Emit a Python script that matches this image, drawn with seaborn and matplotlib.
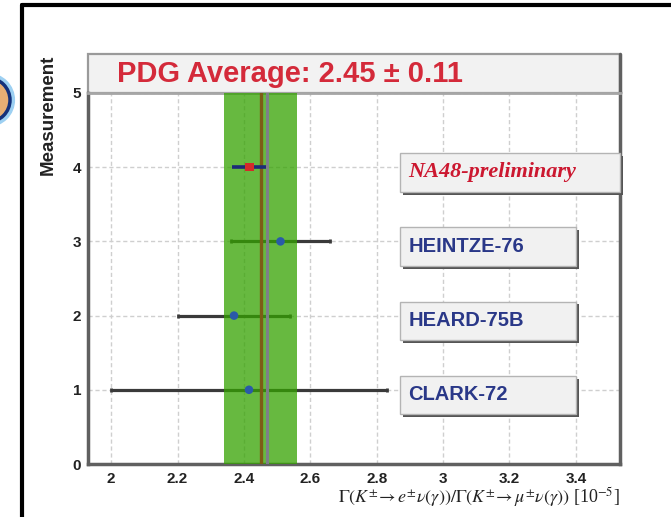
import numpy as np
import pandas as pd
import matplotlib
matplotlib.use("Agg")
import matplotlib.pyplot as plt
import seaborn as sns
from matplotlib.patches import Rectangle, Ellipse
from matplotlib.lines import Line2D
from matplotlib.ticker import MultipleLocator

# Measurements of the K -> e nu / K -> mu nu ratio (units of 1e-5)
experiments = ["CLARK-72", "HEARD-75B", "HEINTZE-76", "NA48-preliminary"]
measurement = [1, 2, 3, 4]
values = [2.415, 2.37, 2.51, 2.416]
errors = [0.415, 0.17, 0.15, 0.051]
pdg_avg = 2.45
pdg_err = 0.11
combined_avg = 2.47

x_ticks = [2.0, 2.2, 2.4, 2.6, 2.8, 3.0, 3.2, 3.4]
x_tick_labels = ["2", "2.2", "2.4", "2.6", "2.8", "3", "3.2", "3.4"]
y_ticks = [0, 1, 2, 3, 4, 5]

sns.set_style("white")
plt.rcParams["font.family"] = ["Liberation Sans", "DejaVu Sans"]
plt.rcParams["mathtext.fontset"] = "stix"

W, H = 671, 517
fig = plt.figure(figsize=(W / 100, H / 100), dpi=100)
ax = fig.add_axes([88 / W, 1 - 464 / H, (620 - 88) / W, (464 - 93) / H])
ax.set_xlim(1.93, 3.533)
ax.set_ylim(0, 5)

df = pd.DataFrame({"experiment": experiments, "measurement": measurement,
                   "value": values, "error": errors})
old = df[df.experiment != "NA48-preliminary"]
na48 = df[df.experiment == "NA48-preliminary"]

# grid
ax.set_xticks(x_ticks)
ax.set_xticklabels(x_tick_labels)
ax.set_yticks(y_ticks)
ax.xaxis.set_minor_locator(MultipleLocator(0.04))
ax.yaxis.set_minor_locator(MultipleLocator(0.2))
ax.grid(True, which="major", color="#cfcfcf", linestyle=(0, (3, 2)), lw=1.0, zorder=0)
ax.set_axisbelow(True)

# older measurements: error bars under the average band
ax.errorbar(old.value, old.measurement, xerr=old.error, fmt="none",
            ecolor="#3a3a3a", elinewidth=2.3, capsize=1.5, capthick=2, zorder=2)

# PDG average band and lines
ax.axvspan(pdg_avg - pdg_err, pdg_avg + pdg_err, color="#34a200", alpha=0.75, lw=0, zorder=3)
ax.axvline(pdg_avg, color="#7d5c16", lw=2.4, zorder=4)
ax.axvline(combined_avg, color="#7e7f88", lw=2.2, zorder=4)

# NA48 error bar on top
ax.errorbar(na48.value, na48.measurement, xerr=na48.error, fmt="none",
            ecolor="#1c2a78", elinewidth=2.6, zorder=5)

palette = {"CLARK-72": "#2a5aa8", "HEARD-75B": "#2a5aa8",
           "HEINTZE-76": "#2a5aa8", "NA48-preliminary": "#d42a2a"}
markers = {"CLARK-72": "o", "HEARD-75B": "o", "HEINTZE-76": "o", "NA48-preliminary": "s"}
sns.scatterplot(data=df, x="value", y="measurement", hue="experiment", style="experiment",
                palette=palette, markers=markers, s=38, edgecolor="none",
                legend=False, ax=ax, zorder=6)
ax.set_xlabel("")
ax.set_ylabel("")

# experiment label boxes
box_x0 = 2.87
for name, y in zip(experiments, measurement):
    x1 = 3.533 if name == "NA48-preliminary" else 3.40
    y0, y1 = y - 0.33, y + 0.19
    ax.add_patch(Rectangle((box_x0 + 0.009, y0 - 0.04), x1 - box_x0, y1 - y0,
                           facecolor="#555555", edgecolor="none", zorder=7, clip_on=False))
    ax.add_patch(Rectangle((box_x0, y0), x1 - box_x0, y1 - y0,
                           facecolor="#f1f1f1", edgecolor="#b4b4b4", lw=1.0, zorder=8,
                           clip_on=False))
    if name == "NA48-preliminary":
        ax.text(box_x0 + 0.026, (y0 + y1) / 2, name, color="#cc1830", fontsize=16,
                family="Liberation Serif", style="italic", fontweight="bold",
                va="center", ha="left", zorder=9)
    else:
        ax.text(box_x0 + 0.026, (y0 + y1) / 2, name, color="#2a3888", fontsize=14.5,
                fontweight="bold", va="center", ha="left", zorder=9)

# title box
tb_h = (93 - 54) / (464 - 93)
ax.add_patch(Rectangle((0, 1), 1, tb_h, transform=ax.transAxes, facecolor="#f2f2f2",
                       edgecolor="#9a9a9a", lw=1.6, clip_on=False, zorder=1))
ax.text((117 - 88) / 532, 1 + tb_h / 2, f"PDG Average: {pdg_avg:.2f} ± {pdg_err:.2f}",
        transform=ax.transAxes, color="#d42a3a", fontsize=21, fontweight="bold",
        va="center", ha="left")
ax.plot([1, 1], [1, 1 + tb_h], transform=ax.transAxes, color="#606060", lw=2.5,
        clip_on=False, zorder=2)

# axes frame and ticks
for side in ["left", "bottom", "right"]:
    ax.spines[side].set_color("#606060")
    ax.spines[side].set_linewidth(2.5)
ax.spines["top"].set_color("#a6a6a6")
ax.spines["top"].set_linewidth(2)
ax.tick_params(axis="both", which="major", direction="in", length=7, width=1.2,
               color="#707070", labelsize=11, labelcolor="#222222")
ax.tick_params(axis="both", which="minor", direction="in", length=3.5, width=1,
               color="#909090")
ax.tick_params(axis="x", pad=6)
ax.tick_params(axis="y", pad=5)
for lbl in ax.get_xticklabels() + ax.get_yticklabels():
    lbl.set_fontweight("bold")

fig.text(48 / W, 1 - 55 / H, "Measurement", rotation=90, ha="center", va="top",
         fontsize=13.5, fontweight="bold", color="#222222")
fig.text(620 / W, 1 - 497 / H,
         r"$\Gamma(K^{\pm}\!\rightarrow e^{\pm}\nu(\gamma))/\Gamma(K^{\pm}\!\rightarrow \mu^{\pm}\nu(\gamma))$ [10$^{-5}$]",
         ha="right", va="center", fontsize=13, family="Liberation Serif", color="#222222")

# page border and badge at the left edge
fig.add_artist(Line2D([22 / W, 22 / W], [0, 1 - 5 / H], color="black", lw=3,
                      transform=fig.transFigure))
fig.add_artist(Line2D([22 / W, 1], [1 - 5 / H, 1 - 5 / H], color="black", lw=3,
                      transform=fig.transFigure))
fig.add_artist(Ellipse((-12 / W, 1 - 100 / H), 50 / W, 50 / H, transform=fig.transFigure,
                       facecolor="none", edgecolor="#9dd0f2", lw=3))
fig.add_artist(Ellipse((-12 / W, 1 - 100 / H), 44 / W, 44 / H, transform=fig.transFigure,
                       facecolor="#e6ad74", edgecolor="#14307a", lw=2.5))

fig.savefig("out.png", dpi=100, facecolor="white")
